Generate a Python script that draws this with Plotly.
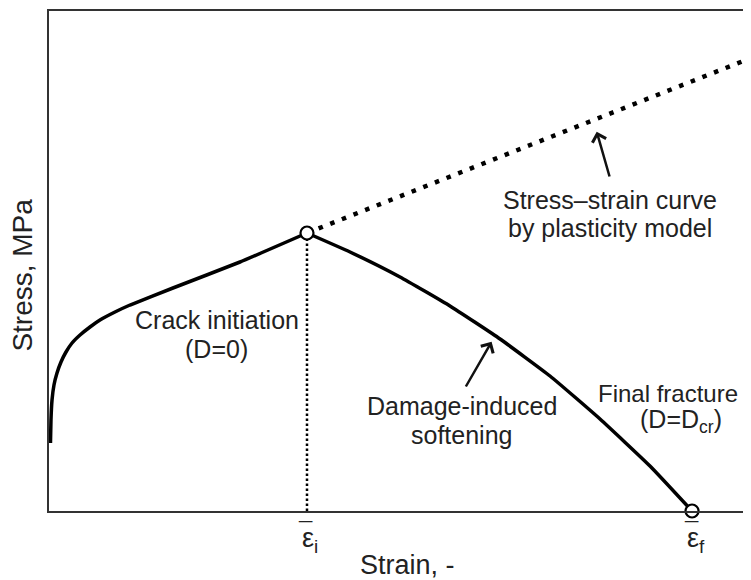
import plotly.graph_objects as go

# --- data (normalised strain / stress read from the schematic) ---
hard_strain = [0.0021, 0.0028, 0.0043, 0.0071, 0.0114, 0.0171, 0.0242, 0.0328, 0.0442,
               0.0584, 0.0726, 0.094, 0.1154, 0.1766, 0.2721, 0.3675]
hard_stress = [0.136, 0.182, 0.222, 0.252, 0.276, 0.298, 0.318, 0.336, 0.352,
               0.368, 0.382, 0.398, 0.412, 0.446, 0.498, 0.556]

soft_strain = [0.3675, 0.4288, 0.500, 0.5712, 0.6425, 0.7137, 0.7849, 0.8561, 0.916]
soft_stress = [0.556, 0.518, 0.468, 0.410, 0.344, 0.270, 0.184, 0.090, 0.0]

plast_strain = [0.3675, 1.0]
plast_stress = [0.556, 0.906]

eps_i = 0.3675
eps_f = 0.916
sig_i = 0.556

tick_subs = ["i", "f"]

FONT = "Liberation Sans, Arial, sans-serif"
TXT = "#222222"

fig = go.Figure()

# plasticity-model extension (dotted)
fig.add_trace(go.Scatter(x=plast_strain, y=plast_stress, mode="lines",
                         line=dict(color="black", width=4.5, dash="4.5px,8px"),
                         hoverinfo="skip", showlegend=False))
# vertical guide at crack initiation
fig.add_trace(go.Scatter(x=[eps_i, eps_i], y=[0, sig_i], mode="lines",
                         line=dict(color="black", width=2.5, dash="2.5px,2.5px"),
                         hoverinfo="skip", showlegend=False))
# hardening curve
fig.add_trace(go.Scatter(x=hard_strain, y=hard_stress, mode="lines",
                         line=dict(color="black", width=3.5, shape="spline", smoothing=0.4),
                         hoverinfo="skip", showlegend=False))
# softening curve
fig.add_trace(go.Scatter(x=soft_strain, y=soft_stress, mode="lines",
                         line=dict(color="black", width=3.5, shape="spline", smoothing=0.4),
                         hoverinfo="skip", showlegend=False))
# open circles
fig.add_trace(go.Scatter(x=[eps_i, eps_f], y=[sig_i, 0], mode="markers",
                         marker=dict(size=13, color="white", line=dict(color="black", width=2.2)),
                         cliponaxis=False, hoverinfo="skip", showlegend=False))

ann = []
def txt(x, y, s, xanchor="center", size=25):
    ann.append(dict(x=x, y=y, xref="x", yref="y", text=s, showarrow=False,
                    xanchor=xanchor, yanchor="middle",
                    font=dict(family=FONT, size=size, color=TXT)))

txt(0.2393, 0.382, "Crack initiation")
txt(0.2393, 0.324, "(D=0)")
txt(0.588, 0.210, "Damage-induced")
txt(0.588, 0.152, "softening")
txt(0.984, 0.236, "Final fracture", xanchor="right", size=24)
txt(0.839, 0.180, "(D=D<sub>cr</sub>)", xanchor="left")
txt(0.799, 0.622, "Stress–strain curve")
txt(0.799, 0.566, "by plasticity model")

# arrows
ann.append(dict(x=0.6305, y=0.3386, ax=0.5926, ay=0.246, xref="x", yref="y",
                axref="x", ayref="y", text="", showarrow=True, arrowhead=4,
                arrowsize=1.1, arrowwidth=2.5, arrowcolor="#111111"))
ann.append(dict(x=0.7802, y=0.7586, ax=0.7991, ay=0.666, xref="x", yref="y",
                axref="x", ayref="y", text="", showarrow=True, arrowhead=4,
                arrowsize=1.1, arrowwidth=2.5, arrowcolor="#111111"))

# tick labels: epsilon with subscript, and a bar above it
for xv, sub in zip([eps_i, eps_f], tick_subs):
    ann.append(dict(x=xv, y=0, xref="x", yref="paper", text="ε<sub>" + sub + "</sub>",
                    showarrow=False, xanchor="left", yanchor="top", yshift=-10, xshift=-7,
                    font=dict(family=FONT, size=27, color=TXT)))
    ann.append(dict(x=xv, y=0, xref="x", yref="paper", text="¯",
                    showarrow=False, xanchor="center", yanchor="top", yshift=-4, xshift=-1,
                    font=dict(family=FONT, size=24, color=TXT)))

# axis titles
ann.append(dict(x=0.51, y=-0.108, xref="paper", yref="paper", text="Strain, -",
                showarrow=False, xanchor="center", yanchor="middle",
                font=dict(family=FONT, size=27, color=TXT)))
ann.append(dict(x=-0.039, y=0.472, xref="paper", yref="paper", text="Stress, MPa",
                showarrow=False, xanchor="center", yanchor="middle", textangle=-90,
                font=dict(family=FONT, size=28, color=TXT)))

# the page body adds an 8px offset, so the figure is sized to compensate
fig.update_layout(
    width=743, height=572,
    margin=dict(l=41, r=0, t=3, b=69),
    paper_bgcolor="white", plot_bgcolor="white",
    annotations=ann,
    xaxis=dict(range=[0, 1], showgrid=False, zeroline=False, showticklabels=False,
               ticks="", showline=True, linecolor="#333333", linewidth=2, mirror=True),
    yaxis=dict(range=[0, 1], showgrid=False, zeroline=False, showticklabels=False,
               ticks="", showline=True, linecolor="#333333", linewidth=2),
)

fig.write_html("out.html")
